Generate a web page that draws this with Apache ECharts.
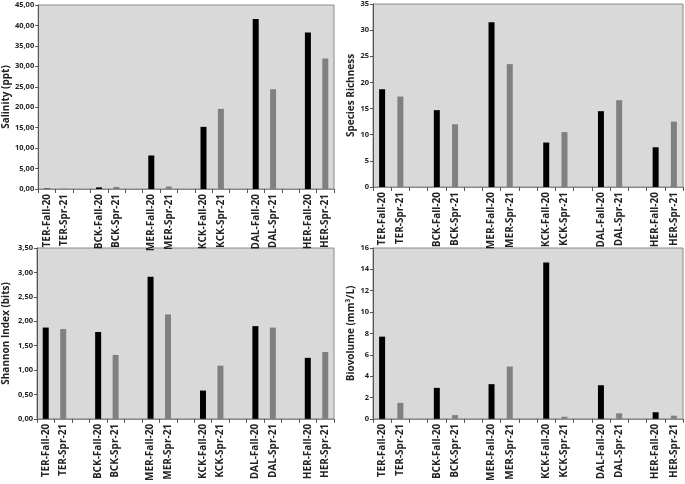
<!DOCTYPE html>
<html>
<head>
<meta charset="utf-8">
<script src="https://cdn.jsdelivr.net/npm/echarts@6/dist/echarts.min.js"></script>
<style>
  html, body { margin: 0; padding: 0; background: #fff; }
  #chart { width: 685px; height: 484px; }
</style>
</head>
<body>
<div id="chart"></div>
<script>
// sites, each sampled in Fall-20 and Spr-21
const sites = ["TER", "BCK", "MER", "KCK", "DAL", "HER"];

// values per site: [Fall-20, Spr-21]
const salinity = [[0.1, 0.1], [0.4, 0.5], [8.2, 0.6], [15.2, 19.6], [41.6, 24.4], [38.3, 31.9]];
const richness = [[18.7, 17.3], [14.7, 12.0], [31.5, 23.5], [8.5, 10.5], [14.5, 16.6], [7.6, 12.5]];
const shannon = [[1.87, 1.84], [1.78, 1.31], [2.91, 2.14], [0.58, 1.09], [1.90, 1.87], [1.25, 1.37]];
const biovolume = [[7.7, 1.5], [2.9, 0.35], [3.25, 4.9], [14.65, 0.2], [3.15, 0.52], [0.62, 0.3]];

const FALL = "#000000";
const SPR = "#808080";
const font = "Open Sans";

// category slots with an empty slot between sites
const slots = [];
sites.forEach((s, i) => {
  slots.push(s + "-Fall-20", s + "-Spr-21");
  if (i < sites.length - 1) slots.push("");
});

function slotData(vals) {
  const out = [];
  vals.forEach((v, i) => {
    out.push({ value: v[0], itemStyle: { color: FALL } });
    out.push({ value: v[1], itemStyle: { color: SPR } });
    if (i < vals.length - 1) out.push(null);
  });
  return out;
}

const panels = [
  { name: "Salinity (ppt)", data: salinity, max: 45, interval: 5, dec: 2, nameGap: 26,
    grid: { left: 33, top: 5, width: 301, height: 184 } },
  { name: "Species Richness", data: richness, max: 35, interval: 5, dec: 0, nameGap: 17,
    grid: { left: 373, top: 3, width: 310, height: 184 } },
  { name: "Shannon Index (bits)", data: shannon, max: 3.5, interval: 0.5, dec: 2, nameGap: 26,
    grid: { left: 33, top: 248, width: 301, height: 181 } },
  { name: "Biovolume (mm³/L)", data: biovolume, max: 16, interval: 2, dec: 0, nameGap: 17,
    grid: { left: 373, top: 248, width: 310, height: 183 } }
];

const chart = echarts.init(document.getElementById("chart"));

const option = {
  animation: false,
  grid: panels.map(p => Object.assign({
    show: true,
    backgroundColor: "#d9d9d9",
    borderColor: "#8a8a8a",
    borderWidth: 1
  }, p.grid)),
  xAxis: panels.map((p, i) => ({
    type: "category",
    gridIndex: i,
    data: slots,
    axisLine: { lineStyle: { color: "#8a8a8a", width: 1 } },
    axisTick: { show: true, interval: 0, length: 4, lineStyle: { color: "#555" } },
    axisLabel: {
      interval: 0,
      rotate: 90,
      fontFamily: font,
      fontWeight: "bold",
      fontSize: 10,
      color: "#222",
      margin: 5
    }
  })),
  yAxis: panels.map((p, i) => ({
    type: "value",
    gridIndex: i,
    min: 0,
    max: p.max,
    interval: p.interval,
    name: p.name,
    nameLocation: "middle",
    nameGap: p.nameGap,
    nameTextStyle: { fontFamily: font, fontWeight: "bold", fontSize: 10, color: "#222" },
    splitLine: { show: false },
    axisLine: { show: true, lineStyle: { color: "#555" } },
    axisTick: { show: true, length: 3, lineStyle: { color: "#555" } },
    axisLabel: {
      fontFamily: font,
      fontWeight: "bold",
      fontSize: 7.5,
      color: "#222",
      margin: 4,
      formatter: v => v.toFixed(p.dec).replace(".", ",")
    }
  })),
  series: panels.map((p, i) => ({
    type: "bar",
    xAxisIndex: i,
    yAxisIndex: i,
    barWidth: 6,
    data: slotData(p.data)
  }))
};

chart.setOption(option);
</script>
</body>
</html>
